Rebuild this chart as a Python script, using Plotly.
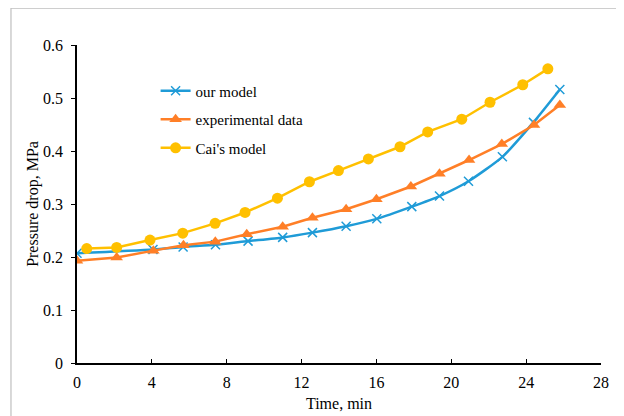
import plotly.graph_objects as go

# our model (blue, x markers)
model_t = [0, 4.06, 5.67, 7.4, 9.14, 10.99, 12.58, 14.38, 16.02, 17.89, 19.37, 20.92, 22.73, 24.39, 25.8]
model_v = [0.207, 0.214, 0.219, 0.223, 0.230, 0.237, 0.246, 0.258, 0.272, 0.295, 0.315, 0.343, 0.389, 0.454, 0.516]

# experimental data (orange, triangles)
exp_t = [0, 2.12, 4.08, 5.69, 7.39, 9.07, 10.99, 12.58, 14.38, 16.0, 17.84, 19.37, 20.95, 22.7, 24.42, 25.8]
exp_v = [0.193, 0.199, 0.212, 0.222, 0.229, 0.243, 0.257, 0.274, 0.290, 0.309, 0.333, 0.357, 0.383, 0.413, 0.449, 0.487]

# Cai's model (yellow, circles)
cai_t = [0.52, 2.12, 3.9, 5.65, 7.38, 8.98, 10.71, 12.42, 13.97, 15.57, 17.26, 18.74, 20.56, 22.07, 23.82, 25.16]
cai_v = [0.216, 0.218, 0.232, 0.245, 0.2635, 0.284, 0.311, 0.342, 0.363, 0.385, 0.408, 0.436, 0.460, 0.492, 0.525, 0.555]

x_ticks = [0, 4, 8, 12, 16, 20, 24, 28]
y_ticks = [0, 0.1, 0.2, 0.3, 0.4, 0.5, 0.6]
y_tick_labels = ["0", "0.1", "0.2", "0.3", "0.4", "0.5", "0.6"]

BLUE = "#1F9BD7"
ORANGE = "#FF7F27"
YELLOW = "#FFC000"
FONT = "Liberation Serif, Times New Roman, serif"

fig = go.Figure()
fig.add_trace(go.Scatter(
    x=model_t, y=model_v, name="our model", mode="lines+markers",
    line=dict(color=BLUE, width=2.5, shape="spline", smoothing=0.6),
    marker=dict(symbol="x-thin", size=9, line=dict(color=BLUE, width=1.5), color=BLUE),
    legendgroup="a"))
fig.add_trace(go.Scatter(
    x=exp_t, y=exp_v, name="experimental data", mode="lines+markers",
    line=dict(color=ORANGE, width=2.5),
    marker=dict(symbol="triangle-up", size=11, color=ORANGE),
    legendgroup="b"))
fig.add_trace(go.Scatter(
    x=cai_t, y=cai_v, name="Cai's model", mode="lines+markers",
    line=dict(color=YELLOW, width=2.5),
    marker=dict(symbol="circle", size=11, color=YELLOW),
    legendgroup="c"))

fig.update_layout(
    width=624, height=416,
    margin=dict(l=69, r=31, t=37, b=61),
    paper_bgcolor="white", plot_bgcolor="white",
    font=dict(family=FONT, size=16, color="black"),
    showlegend=True,
    legend=dict(x=0.15, y=0.907, xanchor="left", yanchor="top",
                bgcolor="rgba(0,0,0,0)", traceorder="grouped",
                tracegroupgap=6, font=dict(family=FONT, size=15)),
    xaxis=dict(range=[0, 28], tickvals=x_ticks, ticks="inside", ticklen=4,
               tickcolor="black", showline=True, linecolor="black", linewidth=1.5,
               showgrid=False, zeroline=False, automargin=False,
               ticklabelstandoff=4,
               title=dict(text="Time, min", font=dict(family=FONT, size=16), standoff=8),
               tickfont=dict(family=FONT, size=16)),
    yaxis=dict(range=[0, 0.6], tickvals=y_ticks, ticktext=y_tick_labels,
               ticks="outside", ticklen=4, tickcolor="black",
               showline=True, linecolor="black", linewidth=1.5,
               showgrid=False, zeroline=False, automargin=False,
               ticklabelstandoff=5,
               title=dict(text="Pressure drop, MPa", font=dict(family=FONT, size=16), standoff=0),
               tickfont=dict(family=FONT, size=16)),
    shapes=[dict(type="rect", xref="paper", yref="paper",
                 x0=-0.126, x1=1.042, y0=-0.2, y1=1.116,
                 line=dict(color="#BFBFBF", width=1.2), layer="below")],
)

fig.write_html("out.html")
